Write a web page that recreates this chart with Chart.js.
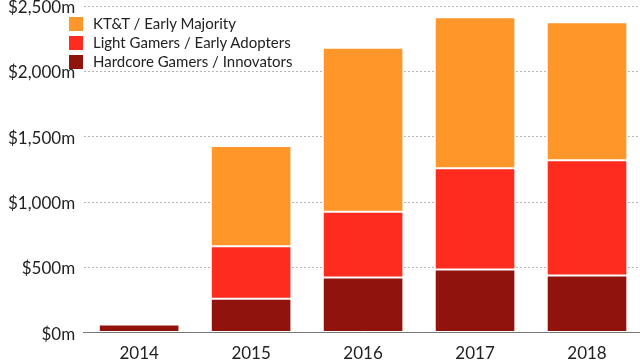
<!DOCTYPE html>
<html>
<head>
<meta charset="utf-8">
<script src="https://cdn.jsdelivr.net/npm/chart.js@4/dist/chart.umd.min.js"></script>
<style>
    html, body { margin: 0; padding: 0; background: #fff; overflow: hidden; }
    #wrap { position: relative; width: 643px; height: 363px; overflow: hidden; }
    #barChart { position: absolute; left: 0; top: -12px; }
    #legend { position: absolute; left: 69px; top: 15px; font-family: Lato, "Open Sans", sans-serif; font-size: 15px; color: #222; }
    #legend div { height: 19px; line-height: 16px; white-space: nowrap; overflow: hidden; }
    #legend span { display: inline-block; width: 14px; height: 14px; vertical-align: -2px; margin-right: 10px; }
</style>
</head>
<body>
<div id="wrap">
    <canvas id="barChart" width="643" height="375"></canvas>
    <div id="legend"></div>
</div>
<script>
// Chart data ($ millions)
const years = ['2014', '2015', '2016', '2017', '2018'];
const hardcore = [62, 259, 422, 484, 437];
const lightGamers = [0, 403, 503, 774, 883];
const kttMajority = [0, 768, 1256, 1158, 1058];
const yTicks = [0, 500, 1000, 1500, 2000, 2500];

document.addEventListener('DOMContentLoaded', function () {
    const ctx = document.getElementById('barChart').getContext('2d');
    const font = { family: 'Lato, "Open Sans", sans-serif', size: 17 };

    const chart = new Chart(ctx, {
        type: 'bar',
        data: {
            labels: years,
            datasets: [
                { label: 'Hardcore Gamers / Innovators', data: hardcore, backgroundColor: '#91130d' },
                { label: 'Light Gamers / Early Adopters', data: lightGamers, backgroundColor: '#fe2b1f' },
                { label: 'KT&T / Early Majority', data: kttMajority, backgroundColor: '#fe9629' },
            ].map(ds => Object.assign(ds, {
                borderColor: 'rgba(255,255,255,0.12)',
                borderWidth: 1,
                borderSkipped: false,
                categoryPercentage: 0.72,
                barPercentage: 1,
            })),
        },
        options: {
            responsive: false,
            animation: false,
            layout: { padding: { top: 0, right: 0, left: 0, bottom: -4 } },
            plugins: { legend: { display: false }, tooltip: { enabled: false } },
            scales: {
                x: {
                    stacked: true,
                    grid: { display: false },
                    border: { color: '#777', width: 1 },
                    ticks: { font: font, color: '#222', padding: 3 },
                },
                y: {
                    stacked: true,
                    min: 0,
                    max: 2500,
                    afterBuildTicks: axis => { axis.ticks = yTicks.map(v => ({ value: v })); },
                    border: { display: true, color: 'rgba(0,0,0,0)', dash: [2, 2] },
                    grid: {
                        color: ctx => ctx.tick && ctx.tick.value === 0 ? 'rgba(0,0,0,0)' : '#b5b5b5',
                        lineWidth: 1,
                        drawTicks: false,
                    },
                    ticks: {
                        font: font,
                        color: '#222',
                        padding: 8,
                        labelOffset: 1.5,
                        callback: v => '$' + v.toLocaleString('en-US') + 'm',
                    },
                },
            },
        },
    });

    // Build the legend in the same top-down order as the stack
    const legend = document.getElementById('legend');
    chart.data.datasets.slice().reverse().forEach(ds => {
        const row = document.createElement('div');
        const box = document.createElement('span');
        box.style.background = ds.backgroundColor;
        row.appendChild(box);
        row.appendChild(document.createTextNode(ds.label));
        legend.appendChild(row);
    });
});
</script>
</body>
</html>
